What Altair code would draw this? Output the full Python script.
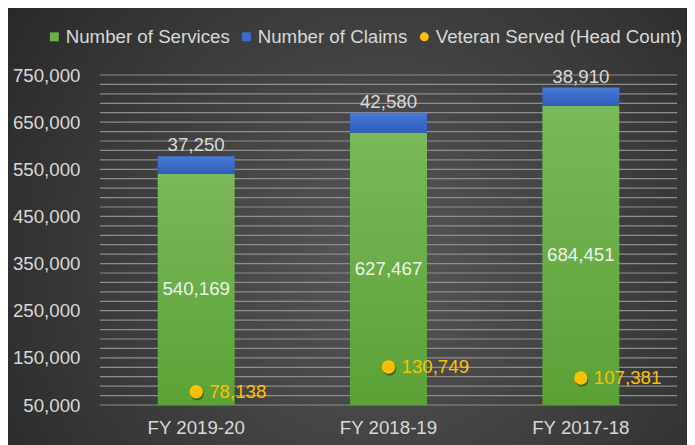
import altair as alt
import pandas as pd

categories = ["FY 2019-20", "FY 2018-19", "FY 2017-18"]
services = [540169, 627467, 684451]
claims = [37250, 42580, 38910]
veterans = [78138, 130749, 107381]
series_names = ["Number of Services", "Number of Claims", "Veteran Served (Head Count)"]
series_colors = ["#6cb04a", "#3d6cd0", "#ffc000"]
series_shapes = ["square", "square", "circle"]
tick_values = [50000, 150000, 250000, 350000, 450000, 550000, 650000, 750000]
grid_values = list(range(50000, 750001, 20000))

FONT = "Liberation Sans"
FS = 18.7
TXT = "#d9d9d9"

bars = pd.DataFrame({"category": categories, "services": services,
                     "claims": claims, "veterans": veterans})
bars["total"] = bars["services"] + bars["claims"]
bars["series"] = series_names[2]

grid_df = pd.DataFrame({"v": grid_values})
bg_df = pd.DataFrame({"a": [0]})

x_enc = alt.X("category:N", sort=categories,
              scale=alt.Scale(paddingInner=0.6, paddingOuter=0.3),
              axis=alt.Axis(title=None, labelAngle=0, labelColor=TXT, labelFont=FONT,
                            labelFontSize=FS, labelPadding=13, ticks=False, domain=False,
                            grid=False, zindex=1))
y_scale = alt.Scale(domain=[50000, 750000], nice=False, zero=False)
y_axis = alt.Axis(values=tick_values, labelExpr="format(datum.value, ',d')", title=None,
                  labelColor=TXT, labelFont=FONT,
                  labelFontSize=FS, labelPadding=20, ticks=False, domain=False,
                  grid=False, zindex=1, labelOverlap=False)

background = alt.Chart(bg_df).mark_rect(
    fill=alt.Gradient(gradient="radial", x1=0.55, y1=0.55, r1=0, x2=0.55, y2=0.55, r2=0.75,
                      stops=[alt.GradientStop(offset=0, color="#575757"),
                             alt.GradientStop(offset=1, color="#232323")])
).encode(x=alt.value(-92), x2=alt.value(587), y=alt.value(-67), y2=alt.value(370))

grid = alt.Chart(grid_df).mark_rule(color="#8e8e8e", strokeWidth=1.2).encode(
    y=alt.Y("v:Q", scale=y_scale, axis=y_axis),
)

base = alt.Chart(bars)

green = base.mark_bar(
    clip=True,
    fill=alt.Gradient(gradient="linear", x1=0, y1=0, x2=0, y2=1,
                      stops=[alt.GradientStop(offset=0, color="#7ab85a"),
                             alt.GradientStop(offset=1, color="#58a032")])
).encode(x=x_enc, y=alt.Y("services:Q", scale=y_scale, axis=y_axis), y2=alt.datum(0))

blue = base.mark_bar(
    clip=True,
    fill=alt.Gradient(gradient="linear", x1=0, y1=0, x2=0, y2=1,
                      stops=[alt.GradientStop(offset=0, color="#4a7ad8"),
                             alt.GradientStop(offset=1, color="#2d5cba")])
).encode(x=x_enc, y=alt.Y("total:Q", scale=y_scale, axis=y_axis), y2="services:Q")

claims_lbl = base.mark_text(font=FONT, fontSize=FS, color=TXT, baseline="bottom", dy=-1).encode(
    x=x_enc, y=alt.Y("total:Q", scale=y_scale, axis=y_axis), text=alt.Text("claims:Q", format=","))

serv_lbl = base.transform_calculate(mid="(50000 + datum.services) / 2").mark_text(
    font=FONT, fontSize=FS, color="#eef2ea", baseline="middle").encode(
    x=x_enc, y=alt.Y("mid:Q", scale=y_scale, axis=y_axis), text=alt.Text("services:Q", format=","))

shadow = base.mark_point(filled=True, size=180, color="#000000", opacity=0.35,
                         xOffset=1, yOffset=2, shape="circle").encode(
    x=x_enc, y=alt.Y("veterans:Q", scale=y_scale, axis=y_axis))

legend = alt.Legend(title=None, orient="none", direction="horizontal",
                    legendX=-55, legendY=-48, labelColor=TXT, labelFont=FONT,
                    labelFontSize=FS, labelLimit=400, symbolSize=80,
                    symbolStrokeWidth=0, columnPadding=7, labelOffset=2, padding=0)

dots = base.mark_point(filled=True, size=180, opacity=1).encode(
    x=x_enc, y=alt.Y("veterans:Q", scale=y_scale, axis=y_axis),
    color=alt.Color("series:N", scale=alt.Scale(domain=series_names, range=series_colors),
                    legend=legend),
    shape=alt.Shape("series:N", scale=alt.Scale(domain=series_names, range=series_shapes),
                    legend=legend),
)

vet_lbl = base.mark_text(font=FONT, fontSize=FS, color="#ffc000", align="left",
                         baseline="middle", dx=13).encode(
    x=x_enc, y=alt.Y("veterans:Q", scale=y_scale, axis=y_axis),
    text=alt.Text("veterans:Q", format=","))

chart = alt.layer(background, grid, green, blue, claims_lbl, serv_lbl, shadow, dots, vet_lbl).properties(
    width=577, height=330,
    autosize=alt.AutoSizeParams(type="none"),
    padding={"left": 92, "top": 67, "right": 10, "bottom": 40},
    background="#262626",
).configure_view(stroke=None)

chart.save("out.html", embed_options={"renderer": "svg", "actions": False})
